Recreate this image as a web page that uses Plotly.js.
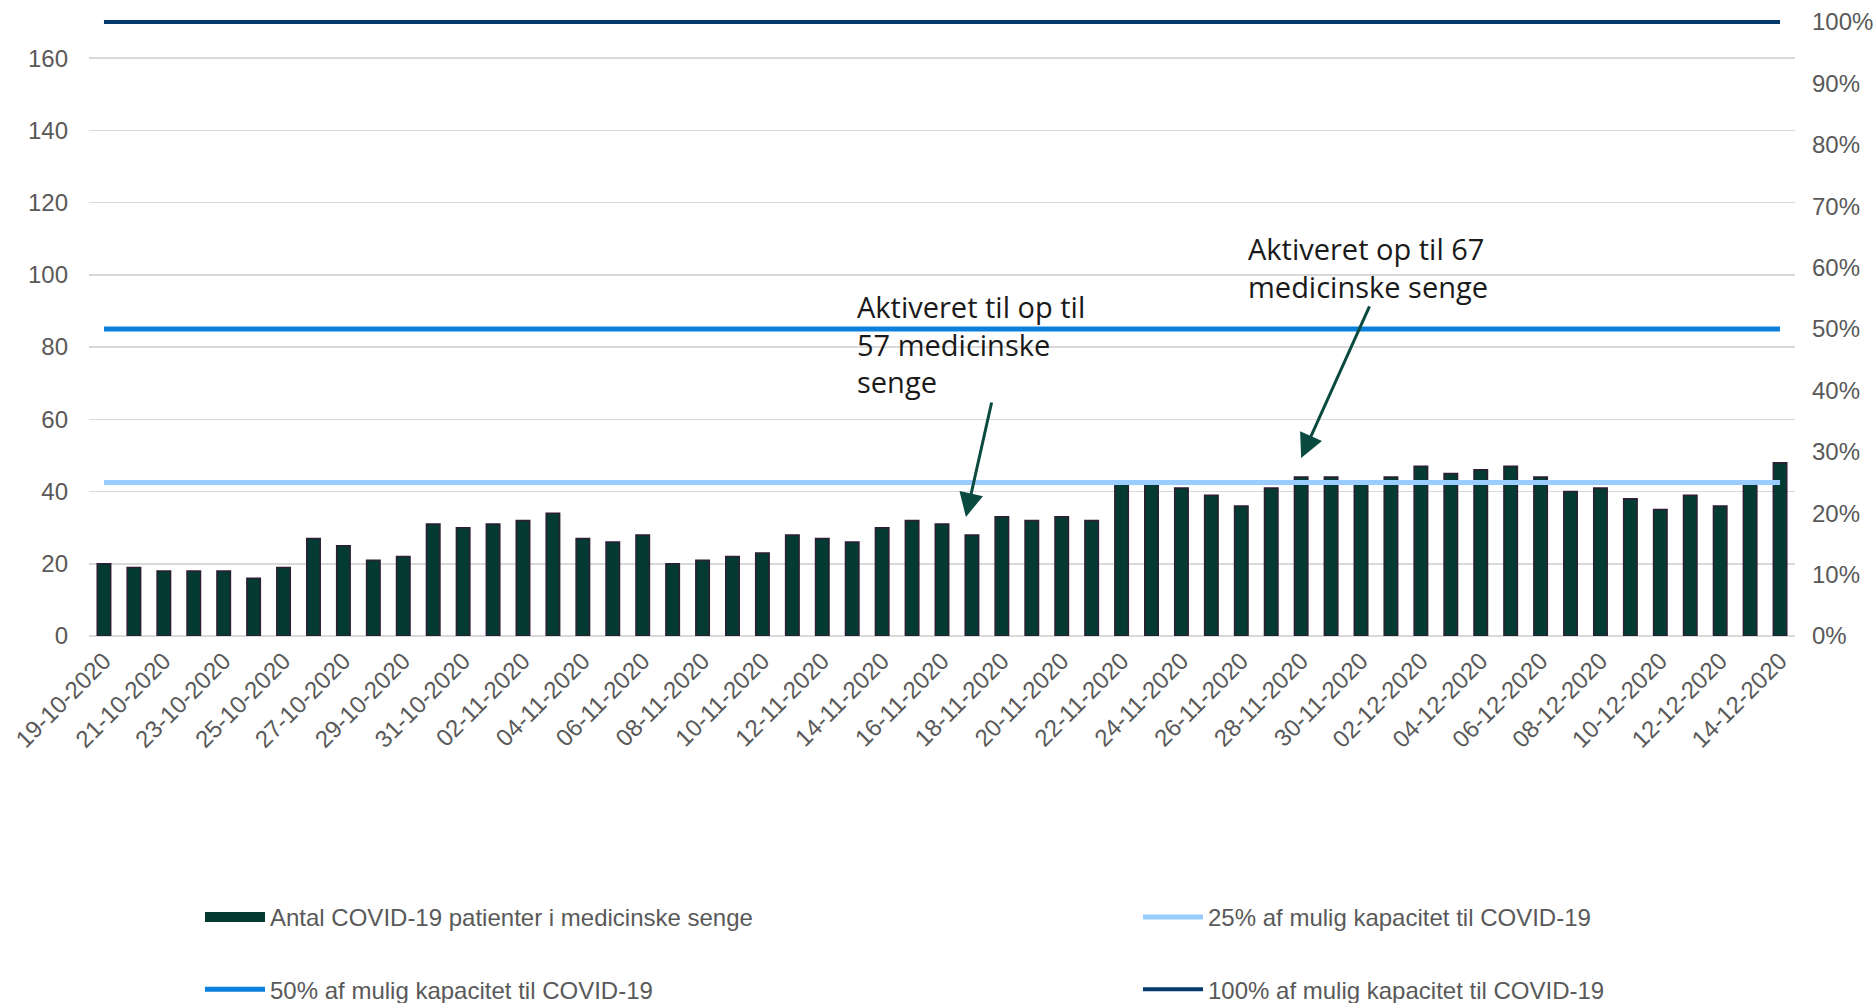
<!DOCTYPE html>
<html>
<head>
<meta charset="utf-8">
<script src="https://cdn.plot.ly/plotly-3.0.1.min.js"></script>
<style>
html,body{margin:0;padding:0;background:#fff;}
#chart{width:1875px;height:1003px;}
</style>
</head>
<body>
<div id="chart"></div>
<script>
const categories = [
  "19-10-2020","20-10-2020","21-10-2020","22-10-2020","23-10-2020","24-10-2020","25-10-2020","26-10-2020","27-10-2020","28-10-2020",
  "29-10-2020","30-10-2020","31-10-2020","01-11-2020","02-11-2020","03-11-2020","04-11-2020","05-11-2020","06-11-2020","07-11-2020",
  "08-11-2020","09-11-2020","10-11-2020","11-11-2020","12-11-2020","13-11-2020","14-11-2020","15-11-2020","16-11-2020","17-11-2020",
  "18-11-2020","19-11-2020","20-11-2020","21-11-2020","22-11-2020","23-11-2020","24-11-2020","25-11-2020","26-11-2020","27-11-2020",
  "28-11-2020","29-11-2020","30-11-2020","01-12-2020","02-12-2020","03-12-2020","04-12-2020","05-12-2020","06-12-2020","07-12-2020",
  "08-12-2020","09-12-2020","10-12-2020","11-12-2020","12-12-2020","13-12-2020","14-12-2020"
];
const patients = [
  20,19,18,18,18,16,19,27,25,21,
  22,31,30,31,32,34,27,26,28,20,
  21,22,23,28,27,26,30,32,31,28,
  33,32,33,32,42,42,41,39,36,41,
  44,44,42,44,47,45,46,47,44,40,
  41,38,35,39,36,42,48
];
const capacity100 = 170;
const capacity50 = 85;
const capacity25 = 42.5;
const seriesNames = [
  "Antal COVID-19 patienter i medicinske senge",
  "25% af mulig kapacitet til COVID-19",
  "50% af mulig kapacitet til COVID-19",
  "100% af mulig kapacitet til COVID-19"
];
const leftTicks = [0,20,40,60,80,100,120,140,160];
const rightTicks = [0,0.1,0.2,0.3,0.4,0.5,0.6,0.7,0.8,0.9,1.0];
const xTickLabels = categories.filter((d,i)=>i%2===0);
const note1 = "Aktiveret til op til<br>57 medicinske<br>senge";
const note2 = "Aktiveret op til 67<br>medicinske senge";

const yMax = 175;
const L = 89, R = 80, T = 4, B = 367, W = 1875 - L - R, H = 1003 - T - B;
const tickFont = {family:"Liberation Sans, Arial, sans-serif", size:24, color:"#595959"};
const legFont = {family:"Liberation Sans, Arial, sans-serif", size:24, color:"#595959"};
const noteFont = {family:"Open Sans, sans-serif", size:29, color:"#1a1a1a"};
const barColor = "#033b33";

const traces = [
  {type:"bar", x:categories, y:patients, name:seriesNames[0],
   marker:{color:barColor, line:{color:"#2e1d33", width:1.5}},
   showlegend:false, hoverinfo:"x+y"},
  {type:"scatter", mode:"lines", x:[null], y:[null], name:seriesNames[0],
   line:{color:barColor, width:14}, legend:"legend", legendgroup:"g1", hoverinfo:"skip"},
  {type:"scatter", mode:"lines", x:categories, y:categories.map(()=>capacity25), name:seriesNames[1],
   line:{color:"#99ccff", width:5}, legend:"legend2", legendgroup:"g2"},
  {type:"scatter", mode:"lines", x:categories, y:categories.map(()=>capacity50), name:seriesNames[2],
   line:{color:"#0a80dc", width:5}, legend:"legend", legendgroup:"g3"},
  {type:"scatter", mode:"lines", x:categories, y:categories.map(()=>capacity100), name:seriesNames[3],
   line:{color:"#053b6c", width:4}, legend:"legend2", legendgroup:"g4"},
  {type:"scatter", mode:"lines", x:[categories[0]], y:[0], yaxis:"y2", showlegend:false, hoverinfo:"skip", line:{width:0}}
];

const px2x = p => (p - L) / W;
const py2y = p => 1 - (p - T) / H;

const layout = {
  width:1875, height:1003,
  margin:{l:L, r:R, t:T, b:B, autoexpand:false},
  paper_bgcolor:"#ffffff", plot_bgcolor:"#ffffff",
  bargap:0.55,
  showlegend:true,
  xaxis:{type:"category", tickmode:"array", tickvals:xTickLabels, ticktext:xTickLabels,
    tickangle:-45, tickfont:tickFont, showgrid:false, ticks:"", showline:false, automargin:false,
    ticklabelstandoff:5, range:[-0.5, categories.length-0.5]},
  yaxis:{range:[0,yMax], tickmode:"array", tickvals:leftTicks, tickfont:tickFont, automargin:false,
    showgrid:true, gridcolor:"#d9d9d9", gridwidth:1.5, zeroline:true, zerolinecolor:"#d9d9d9", zerolinewidth:1.5,
    ticks:"", showline:false, ticklabelstandoff:20},
  yaxis2:{overlaying:"y", side:"right", range:[0, yMax/capacity100], tickmode:"array", tickvals:rightTicks, automargin:false,
    tickformat:".0%", tickfont:tickFont, showgrid:false, zeroline:false, ticks:"", showline:false, ticklabelstandoff:16},
  legend:{x:px2x(200), y:py2y(895), xanchor:"left", yanchor:"top",
    orientation:"v", font:legFont, itemwidth:60, tracegroupgap:38, bgcolor:"rgba(0,0,0,0)", traceorder:"grouped"},
  legend2:{x:px2x(1138), y:py2y(895), xanchor:"left", yanchor:"top",
    orientation:"v", font:legFont, itemwidth:60, tracegroupgap:38, bgcolor:"rgba(0,0,0,0)", traceorder:"grouped"},
  annotations:[
    {xref:"paper", yref:"paper", x:px2x(855), y:py2y(285), xanchor:"left", yanchor:"top",
     text:note1, align:"left", showarrow:false, font:noteFont},
    {xref:"paper", yref:"paper", x:px2x(1246), y:py2y(227), xanchor:"left", yanchor:"top",
     text:note2, align:"left", showarrow:false, font:noteFont},
    {xref:"x", yref:"y", x:28.8, y:(636-517)/3.611, text:"", showarrow:true, ax:26, ay:-116,
     arrowhead:2, arrowsize:1.6, arrowwidth:3, arrowcolor:"#0a4a40", standoff:0},
    {xref:"x", yref:"y", x:40.0, y:(636-458)/3.611, text:"", showarrow:true, ax:69, ay:-153,
     arrowhead:2, arrowsize:1.6, arrowwidth:3, arrowcolor:"#0a4a40", standoff:0}
  ]
};

Plotly.newPlot("chart", traces, layout, {displayModeBar:false, staticPlot:true});
</script>
</body>
</html>
